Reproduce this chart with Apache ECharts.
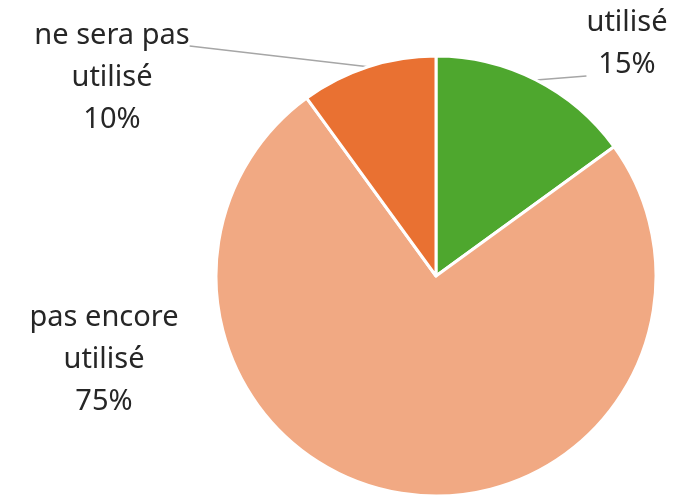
<!DOCTYPE html>
<html>
<head>
<meta charset="utf-8">
<title>pie</title>
<script src="https://cdn.jsdelivr.net/npm/echarts@6/dist/echarts.min.js"></script>
<style>
  html, body { margin: 0; padding: 0; background: #fff; }
  #chart { width: 677px; height: 499px; }
</style>
</head>
<body>
<div id="chart"></div>
<script>
// données
const categories = ['utilisé', 'pas encore utilisé', 'ne sera pas utilisé'];
const labelNames = ['utilisé', 'pas encore\nutilisé', 'ne sera pas\nutilisé'];
const values = [15, 75, 10];
const colors = ['#4ea72e', '#f1a983', '#e97132'];

// position des étiquettes (centre de la boîte)
// une ligne vide (avant / après) décale le point d'accroche du trait
const labelPos = [
  { x: 627, y: 76, gap: 'after' },
  { x: 104, y: 360, gap: null },
  { x: 112, y: 46, gap: 'before' }
];

const chart = echarts.init(document.getElementById('chart'));

chart.setOption({
  animation: false,
  textStyle: {
    fontFamily: 'Noto Sans'
  },
  series: [{
    type: 'pie',
    center: [436, 276],
    radius: 220,
    startAngle: 90,
    clockwise: true,
    avoidLabelOverlap: false,
    itemStyle: {
      borderColor: '#fff',
      borderWidth: 3
    },
    label: {
      show: true,
      position: 'outside',
      color: '#262626',
      fontSize: 29,
      lineHeight: 42,
      formatter: function(p) {
        const i = p.dataIndex;
        let txt = labelNames[i] + '\n' + values[i] + '%';
        if (labelPos[i].gap === 'after') txt = txt + '\n{gap| }';
        if (labelPos[i].gap === 'before') txt = '{gap| }\n' + txt;
        return txt;
      },
      rich: {
        gap: {
          fontSize: 10,
          lineHeight: 64
        }
      }
    },
    labelLine: {
      show: true,
      length: 20,
      length2: 0,
      smooth: false,
      lineStyle: {
        color: '#a6a6a6',
        width: 1.5
      }
    },
    labelLayout: function(params) {
      const pos = labelPos[params.dataIndex];
      return {
        x: pos.x,
        y: pos.y,
        align: 'center',
        verticalAlign: 'middle'
      };
    },
    data: categories.map(function(name, i) {
      return {
        name: name,
        value: values[i],
        itemStyle: { color: colors[i] },
        labelLine: { show: i !== 1 }
      };
    })
  }]
});
</script>
</body>
</html>
